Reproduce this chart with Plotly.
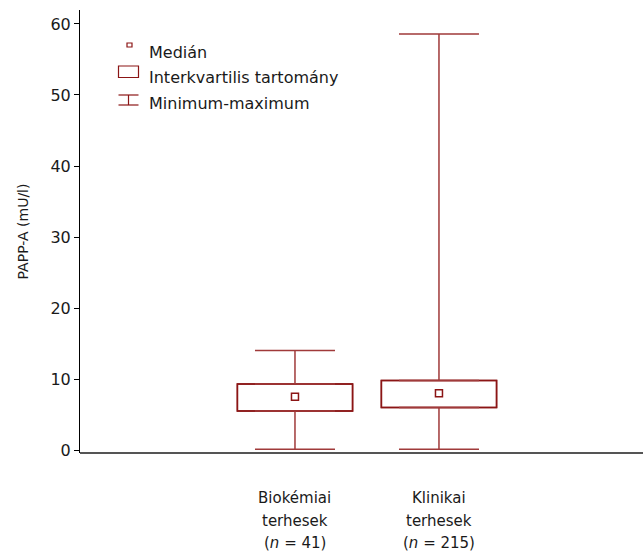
import plotly.graph_objects as go

# ---- data ----
groups = ["Biokémiai terhesek", "Klinikai terhesek"]
label_lines = [["Biokémiai", "terhesek", "(<i>n</i> = 41)"],
               ["Klinikai", "terhesek", "(<i>n</i> = 215)"]]
minimum = [0.1, 0.1]
q1 = [5.5, 6.0]
median = [7.5, 8.0]
q3 = [9.3, 9.8]
maximum = [14.0, 58.6]
y_ticks = [0, 10, 20, 30, 40, 50, 60]
legend_labels = ["Medián", "Interkvartilis tartomány", "Minimum-maximum"]

RED = "#8B1515"
WHISK = "#A03A3A"
FONT = "DejaVu Sans, Verdana, sans-serif"
TXT = "#1a1a1a"
xpos = [1, 2]

fig = go.Figure()

# interquartile boxes
fig.add_trace(go.Bar(
    x=xpos, y=[b - a for a, b in zip(q1, q3)], base=q1, width=0.8,
    marker=dict(color="white", line=dict(color=RED, width=1.5)),
    showlegend=False, hoverinfo="skip"))

# upper whiskers
fig.add_trace(go.Scatter(
    x=xpos, y=q3, mode="markers", marker=dict(size=1, opacity=0),
    error_y=dict(type="data", symmetric=False,
                 array=[m - q for m, q in zip(maximum, q3)],
                 arrayminus=[0, 0], color=WHISK, thickness=1.5, width=40),
    showlegend=False, hoverinfo="skip"))
# lower whiskers
fig.add_trace(go.Scatter(
    x=xpos, y=q1, mode="markers", marker=dict(size=1, opacity=0),
    error_y=dict(type="data", symmetric=False,
                 array=[0, 0],
                 arrayminus=[q - m for m, q in zip(minimum, q1)],
                 color=WHISK, thickness=1.5, width=40),
    showlegend=False, hoverinfo="skip"))
# redraw box outlines on top of whisker caps
fig.add_trace(go.Bar(
    x=xpos, y=[b - a for a, b in zip(q1, q3)], base=q1, width=0.8,
    marker=dict(color="rgba(0,0,0,0)", line=dict(color=RED, width=1.5)),
    showlegend=False, hoverinfo="skip"))
# medians
fig.add_trace(go.Scatter(
    x=xpos, y=median, mode="markers",
    marker=dict(symbol="square-open", size=7, color=RED, line=dict(width=1.5)),
    showlegend=False, hoverinfo="skip"))

shapes = []
annotations = []
# x-axis baseline
shapes.append(dict(type="line", xref="paper", yref="paper", x0=0, x1=1, y0=0, y1=0,
                   line=dict(color="#555555", width=2)))

def px_x(p):
    return (p - 80) / 563
def px_y(p):
    return 1 - (p - 10) / 443

# legend (manual)
shapes.append(dict(type="rect", xref="paper", yref="paper",
                   x0=px_x(127), x1=px_x(132), y0=px_y(43), y1=px_y(47),
                   line=dict(color=RED, width=1.2)))
shapes.append(dict(type="rect", xref="paper", yref="paper",
                   x0=px_x(118.5), x1=px_x(138.5), y0=px_y(66), y1=px_y(77.5),
                   line=dict(color=RED, width=1.2)))
for yy in (95, 105):
    shapes.append(dict(type="line", xref="paper", yref="paper",
                       x0=px_x(118.5), x1=px_x(138.5), y0=px_y(yy), y1=px_y(yy),
                       line=dict(color=RED, width=1.2)))
shapes.append(dict(type="line", xref="paper", yref="paper",
                   x0=px_x(128.5), x1=px_x(128.5), y0=px_y(95), y1=px_y(105),
                   line=dict(color=RED, width=1.2)))
for i, t in enumerate(legend_labels):
    annotations.append(dict(text=t, xref="paper", yref="paper",
                            x=px_x(147), y=px_y(52 + i * 25.5),
                            xanchor="left", yanchor="middle", showarrow=False,
                            font=dict(family=FONT, size=16, color=TXT)))

# category labels
for xi, lines in zip(xpos, label_lines):
    for j, t in enumerate(lines):
        annotations.append(dict(text=t, x=xi, xref="x", yref="paper",
                                y=px_y(498 + j * 22.5), xanchor="center", yanchor="middle",
                                showarrow=False,
                                font=dict(family=FONT, size=15, color=TXT)))

fig.update_layout(
    width=643, height=551,
    margin=dict(l=80, r=0, t=10, b=98),
    paper_bgcolor="white", plot_bgcolor="white",
    showlegend=False, barmode="overlay",
    font=dict(family=FONT, color=TXT),
    xaxis=dict(range=[-0.493, 3.417], showgrid=False, zeroline=False,
               showticklabels=False, ticks="", showline=False, fixedrange=True),
    yaxis=dict(range=[-0.42, 61.97], tickvals=y_ticks, showgrid=False, zeroline=False,
               showline=True, linecolor="black", linewidth=1,
               ticks="outside", ticklen=5, tickcolor="black",
               tickfont=dict(family=FONT, size=16, color=TXT),
               title=dict(text="PAPP-A (mU/l)", font=dict(family=FONT, size=14, color=TXT),
                          standoff=18)),
    shapes=shapes, annotations=annotations,
)

fig.write_html("out.html")
